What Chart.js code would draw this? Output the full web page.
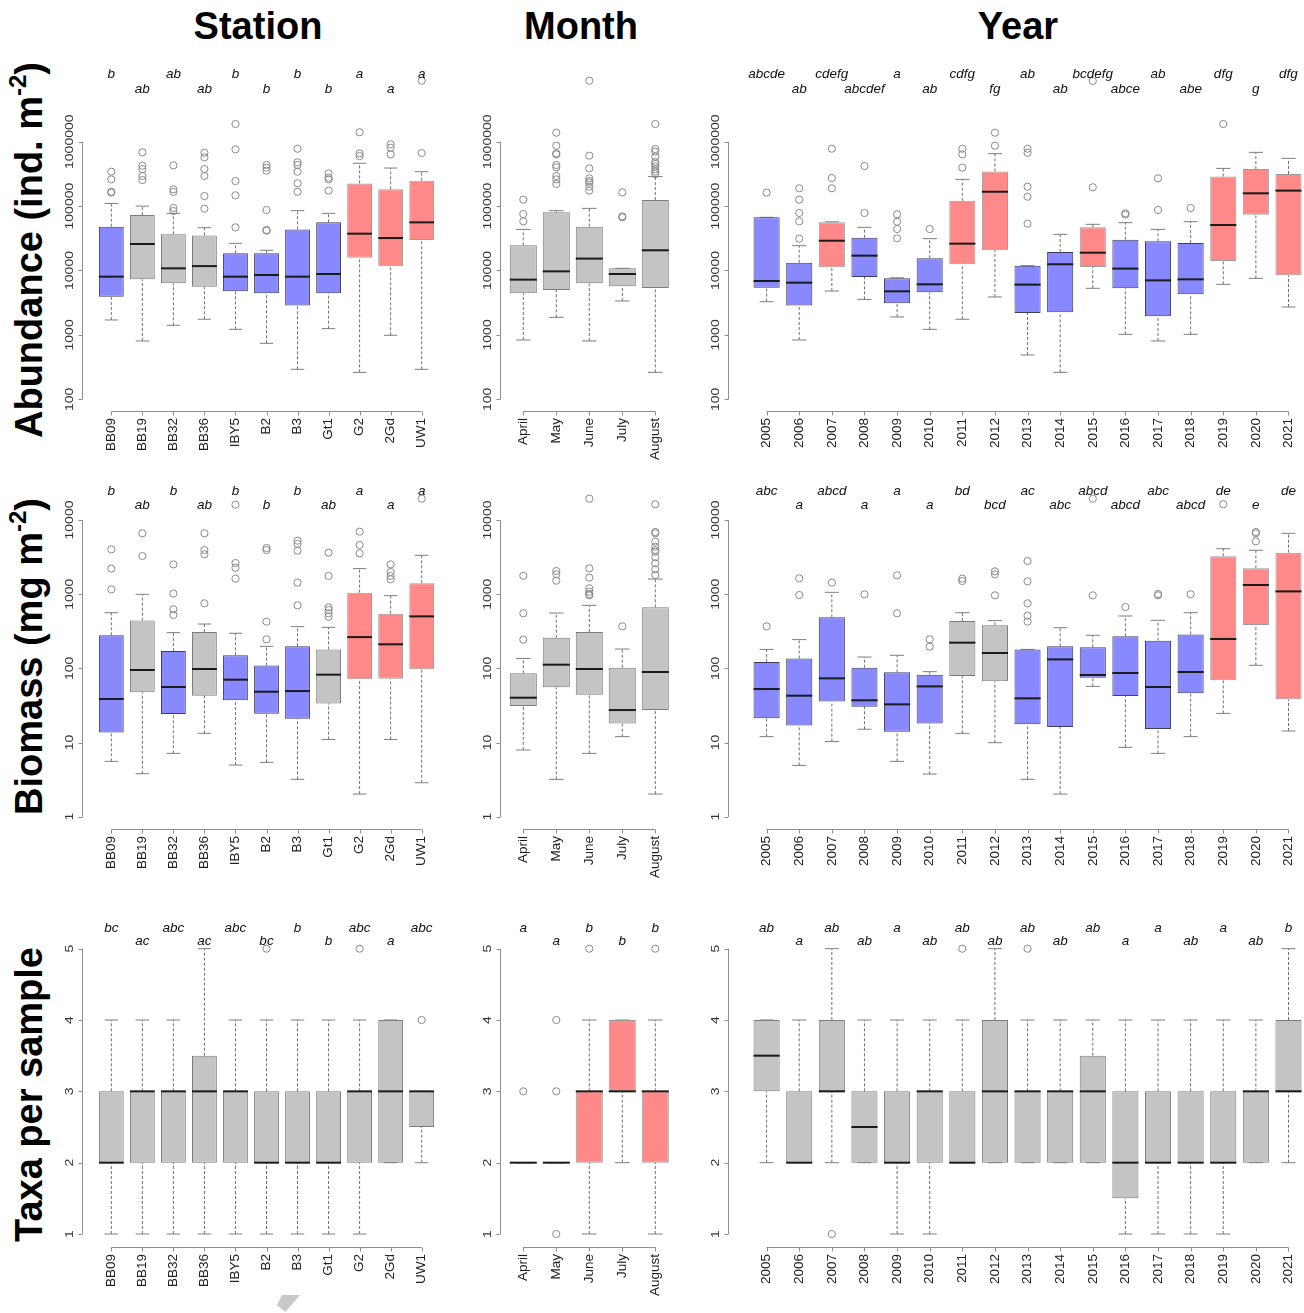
<!DOCTYPE html>
<html><head><meta charset="utf-8">
<script src="https://cdn.jsdelivr.net/npm/chart.js@4.4.1/dist/chart.umd.min.js"></script>
<style>
html,body{margin:0;padding:0;background:#fff;width:1304px;height:1313px;overflow:hidden;position:relative;font-family:"Liberation Sans",Arial,sans-serif;}
canvas{position:absolute;left:0;top:0;}
.title{position:absolute;top:7px;font-weight:bold;font-size:38px;line-height:38px;color:#000;transform:translateX(-50%);white-space:nowrap;}
.rowlab{position:absolute;font-weight:bold;font-size:38px;line-height:38px;color:#000;white-space:nowrap;transform-origin:0 0;transform:rotate(-90deg);}
.rowlab sup{font-size:24px;line-height:0;position:relative;top:-2px;}
.blot{position:absolute;left:277px;top:1295px;width:23px;height:17px;background:#c8c8c8;clip-path:polygon(21% 0,100% 0,36% 100%,0 60%);}
</style></head>
<body>
<div class="title" style="left:258px">Station</div>
<div class="title" style="left:581px">Month</div>
<div class="title" style="left:1018px">Year</div>
<div class="rowlab" style="left:10px;top:438px">Abundance (ind. m<sup>-2</sup>)</div>
<div class="rowlab" style="left:10px;top:815px">Biomass (mg m<sup>-2</sup>)</div>
<div class="rowlab" style="left:10px;top:1242px">Taxa per sample</div>
<div class="blot"></div>
<canvas id="c1" width="1310" height="1313"></canvas>
<canvas id="c2" width="1310" height="1313"></canvas>
<canvas id="c3" width="1310" height="1313"></canvas>
<canvas id="c4" width="1310" height="1313"></canvas>
<canvas id="c5" width="1310" height="1313"></canvas>
<canvas id="c6" width="1310" height="1313"></canvas>
<canvas id="c7" width="1310" height="1313"></canvas>
<canvas id="c8" width="1310" height="1313"></canvas>
<canvas id="c9" width="1310" height="1313"></canvas>
<script>
// ---------- categories ----------
const stations = ['BB09','BB19','BB32','BB36','IBY5','B2','B3','Gt1','G2','2Gd','UW1'];
const months = ['April','May','June','July','August'];
const years = ['2005','2006','2007','2008','2009','2010','2011','2012','2013','2014','2015','2016','2017','2018','2019','2020','2021'];

// ---------- tick labels ----------
const abundTicks = [100, 1000, 10000, 100000, 1000000];
const abundTickLabels = ['100','1000','10000','100000','1000000'];
const bioTicks = [1, 10, 100, 1000, 10000];
const bioTickLabels = ['1','10','100','1000','10000'];
const taxaTicks = [1, 2, 3, 4, 5];
const taxaTickLabels = ['1','2','3','4','5'];

// ---------- Abundance by station ----------
const abStLo  = [1705, 805, 1410, 1750, 1220, 740, 292, 1250, 262, 986, 292];
const abStQ1  = [3925, 7290, 6320, 5610, 4750, 4430, 2850, 4430, 15800, 11600, 29700];
const abStMed = [8020, 25800, 10800, 11700, 8020, 8510, 8020, 8830, 37300, 31900, 55900];
const abStQ3  = [47900, 72700, 36400, 35100, 18500, 18500, 43500, 55900, 225000, 182000, 248000];
const abStHi  = [110000, 100000, 77200, 46200, 26400, 20600, 85000, 77200, 462000, 390000, 342000];
const abStOut = [[342000,260000,167000,162000],[682000,424000,376000,293000,254000],[429000,182000,166000,93300,83900],[674000,571000,376000,293000,143000,91200],[1880000,760000,245000,147000,46800],[435000,395000,355000,86900,42600,41500],[778000,478000,435000,342000,226000,167000],[322000,276000,260000,174000],[1400000,659000,599000],[909000,807000,636000],[8850000,667000]];
const abStCol = ['b','g','g','g','b','b','b','b','r','r','r'];
const abStLet = ['b','ab','ab','ab','b','b','b','b','a','a','a'];

// ---------- Abundance by month ----------
const abMoLo  = [834, 1875, 805, 3360, 262];
const abMoQ1  = [4430, 4980, 6320, 5680, 5350];
const abMoMed = [7210, 9700, 15300, 8830, 20600];
const abMoQ3  = [24600, 80000, 47900, 10800, 124000];
const abMoHi  = [43500, 84900, 92200, 10800, 287000];
const abMoOut = [[126000,75300,58000],[1380000,867000,659000,636000,435000,400000,293000,260000,220000],[8850000,607000,385000,270000,245000,231000,200000,174000],[163000,69300,66900],[1880000,769000,700000,585000,483000,450000,409000,372000,342000,315000]];
const abMoCol = ['g','g','g','g','g'];
const abMoLet = ['','','','',''];

// ---------- Abundance by year ----------
const abYrLo  = [3280, 834, 4800, 3560, 1900, 1220, 1750, 3880, 488, 262, 5290, 1020, 805, 1020, 6100, 7550, 2710];
const abYrQ1  = [5420, 2850, 11200, 7930, 3090, 4580, 12500, 20600, 2190, 2240, 11300, 5290, 1940, 4270, 14000, 73600, 8410];
const abYrMed = [6870, 6470, 29000, 17000, 4750, 6100, 26100, 167000, 6030, 12500, 18900, 10700, 7030, 7290, 50800, 158000, 174000];
const abYrQ3  = [66900, 13200, 55900, 32300, 7550, 15500, 121000, 346000, 11900, 19400, 46800, 30100, 28400, 26700, 287000, 376000, 315000];
const abYrHi  = [66900, 24300, 57000, 46800, 7700, 31200, 260000, 652000, 11900, 36400, 52100, 55300, 43500, 57300, 385000, 683000, 551000];
const abYrOut = [[162000],[189000,126000,78100,58000,31200],[778000,273000,189000],[419000,78100],[74500,57300,44000,31600],[44000],[778000,636000,395000],[1380000,867000],[778000,674000,200000,140000,53300],[],[8750000,196000],[77300,73600],[270000,86900],[93300],[1880000],[],[]];
const abYrCol = ['b','b','r','b','b','b','r','r','b','b','r','b','b','b','r','r','r'];
const abYrLet = ['abcde','ab','cdefg','abcdef','a','ab','cdfg','fg','ab','ab','bcdefg','abce','ab','abe','dfg','g','dfg'];

// ---------- Biomass by station ----------
const bioStLo  = [5.57, 3.80, 7.14, 13.3, 4.97, 5.40, 3.19, 11.0, 2.02, 11.0, 2.87];
const bioStQ1  = [13.6, 47.5, 24.2, 42.8, 37.1, 24.5, 20.9, 33.7, 71.1, 72.6, 97];
const bioStMed = [38.6, 95, 56, 98, 70.3, 48.4, 49.4, 82.2, 264, 211, 502];
const bioStQ3  = [279, 440, 171, 309, 150, 109, 198, 180, 1047, 546, 1400];
const bioStHi  = [563, 995, 303, 396, 297, 198, 365, 357, 2210, 955, 3340];
const bioStOut = [[4020,2210,1160],[6610,3270],[2520,1020,625,524],[6610,3940,3450,752],[16100,2630,2270,1620],[4190,3940,426,246],[5260,4750,3860,1430,707],[3630,1760,664,612,552,497],[6960,4600,3550],[2520,1990,1760,1585],[19400]];
const bioStCol = ['b','g','b','g','b','b','b','g','r','r','r'];
const bioStLet = ['b','ab','b','ab','b','b','b','ab','a','a','a'];

// ---------- Biomass by month ----------
const bioMoLo  = [7.93, 3.19, 7.14, 12.0, 2.02];
const bioMoQ1  = [31.0, 55.4, 44.2, 18.1, 27.4];
const bioMoMed = [40.2, 112, 98, 27.4, 89.3];
const bioMoQ3  = [85.7, 259, 309, 102, 664];
const bioMoHi  = [136, 557, 707, 182, 1600];
const bioMoOut = [[1770,552,244],[2050,1850,1520],[19400,2230,1670,1200,1080,1005,964],[368],[16300,6890,6610,5110,4370,3940,3740,3140,2610,2160,1810]];
const bioMoCol = ['g','g','g','g','g'];
const bioMoLet = ['','','','',''];

// ---------- Biomass by year ----------
const bioYrLo  = [12.0, 4.92, 10.3, 15.1, 5.57, 3.76, 13.3, 9.95, 3.19, 2.02, 57.1, 8.61, 7.14, 12.0, 24.7, 110, 14.3];
const bioYrQ1  = [21.2, 16.9, 35.6, 30.4, 14.0, 18.1, 78.8, 66.8, 17.6, 16.2, 74.8, 42.4, 15.2, 46.0, 68.9, 384, 38.2];
const bioYrMed = [52.6, 42.8, 73.3, 37.1, 32.7, 57.1, 222, 161, 39.4, 132, 81.3, 86.5, 56, 89.3, 249, 1330, 1090];
const bioYrQ3  = [122, 136, 487, 102, 88.3, 82.2, 435, 380, 180, 198, 192, 270, 236, 287, 3240, 2230, 3630];
const bioYrHi  = [180, 244, 1059, 142, 150, 90.2, 563, 440, 180, 353, 279, 508, 444, 563, 4100, 3900, 6610];
const bioYrOut = [[368],[1635,975],[1430],[995],[1795,552],[246,196],[1620,1505],[2030,1850,964],[2800,1490,752,513,426],[],[19400,964],[671],[1005,964],[995],[16300],[6890,6610,5150],[]];
const bioYrCol = ['b','b','b','b','b','b','g','g','b','b','b','b','b','b','r','r','r'];
const bioYrLet = ['abc','a','abcd','a','a','a','bd','bcd','ac','abc','abcd','abcd','abc','abcd','de','e','de'];

// ---------- Taxa by station ----------
const taxStLo  = [1,1,1,1,1,1,1,1,1,2,2];
const taxStQ1  = [2,2,2,2,2,2,2,2,2,2,2.5];
const taxStMed = [2,3,3,3,3,2,2,2,3,3,3];
const taxStQ3  = [3,3,3,3.5,3,3,3,3,3,4,3];
const taxStHi  = [4,4,4,5,4,4,4,4,4,4,3];
const taxStOut = [[],[],[],[],[],[5],[],[],[5],[],[4]];
const taxStCol = ['g','g','g','g','g','g','g','g','g','g','g'];
const taxStLet = ['bc','ac','abc','ac','abc','bc','b','b','abc','a','abc'];

// ---------- Taxa by month ----------
const taxMoLo  = [2,2,1,2,1];
const taxMoQ1  = [2,2,2,3,2];
const taxMoMed = [2,2,3,3,3];
const taxMoQ3  = [2,2,3,4,3];
const taxMoHi  = [2,2,4,4,4];
const taxMoOut = [[3],[1,3,4],[5],[],[5]];
const taxMoCol = ['g','g','r','r','r'];
const taxMoLet = ['a','a','b','b','b'];

// ---------- Taxa by year ----------
const taxYrLo  = [2,2,2,2,1,1,2,2,2,2,2,1,1,1,1,2,2];
const taxYrQ1  = [3,2,3,2,2,2,2,2,2,2,2,1.5,2,2,2,2,3];
const taxYrMed = [3.5,2,3,2.5,2,3,2,3,3,3,3,2,2,2,2,3,3];
const taxYrQ3  = [4,3,4,3,3,3,3,4,3,3,3.5,3,3,3,3,3,4];
const taxYrHi  = [4,4,5,4,4,4,4,5,4,4,4,4,4,4,4,4,5];
const taxYrOut = [[],[],[1],[],[],[],[5],[],[5],[],[],[],[],[],[],[],[]];
const taxYrCol = ['g','g','g','g','g','g','g','g','g','g','g','g','g','g','g','g','g'];
const taxYrLet = ['ab','a','ab','ab','a','ab','ab','ab','ab','ab','ab','a','a','ab','a','ab','b'];

// ---------- styles / layout ----------
const COLORS = {
  b: {fill:'#8888ff', border:'#3e3e5e'},
  r: {fill:'#ff8888', border:'#9c9c9c'},
  g: {fill:'#c4c4c4', border:'#7c7c7c'}
};
const COLS = {
  station: {left:95.8, right:437.2, axisX:82, barPct:0.8},
  month:   {left:506.8, right:671.8, axisX:499.5, barPct:0.82},
  year:    {left:750.3, right:1304.8, axisX:728, barPct:0.8}
};
const ROWS = {
  abund: {top:60, bottom:411, yType:'logarithmic', yMin:65.8, yMax:1.856e7, letHigh:78.3, letLow:92.7},
  bio:   {top:480, bottom:829.3, yType:'logarithmic', yMin:0.6764, yMax:34600, letHigh:495, letLow:509.3},
  taxa:  {top:925, bottom:1246.7, yType:'linear', yMin:0.822, yMax:5.332, letHigh:932.3, letLow:945}
};
const FONT = '"Liberation Sans", Arial, sans-serif';

function makePanel(id, col, row, D) {
  const C = COLS[col], R = ROWS[row];
  const n = D.cats.length;
  const W = 1310, H = 1313;
  const slot = (C.right - C.left) / n;
  const boxW = slot * C.barPct;
  const capHalf = boxW * 0.27;
  const boxes = D.cats.map((c, i) => [D.q1[i], D.q3[i]]);
  const med = D.cats.map((c, i) => ({x: c, y: D.med[i]}));
  const caps = [];
  const whisk = [];
  const outs = [];
  D.cats.forEach((c, i) => {
    caps.push({x: c, y: D.lo[i]}, {x: c, y: D.hi[i]});
    if (D.lo[i] < D.q1[i]) whisk.push({x: c, y: D.lo[i]}, {x: c, y: D.q1[i]}, {x: c, y: null});
    if (D.hi[i] > D.q3[i]) whisk.push({x: c, y: D.q3[i]}, {x: c, y: D.hi[i]}, {x: c, y: null});
    D.out[i].forEach(v => outs.push({x: c, y: v}));
  });
  const axisPlugin = {
    id: 'rAxes' + id,
    afterDraw(chart) {
      const ctx = chart.ctx, xs = chart.scales.x, ys = chart.scales.y;
      ctx.save();
      ctx.strokeStyle = '#8e8e8e';
      ctx.lineWidth = 1;
      // y axis
      const ax = Math.round(C.axisX) + 0.5;
      ctx.beginPath();
      ctx.moveTo(ax, ys.getPixelForValue(D.yTicks[0]));
      ctx.lineTo(ax, ys.getPixelForValue(D.yTicks[D.yTicks.length - 1]));
      D.yTicks.forEach(v => {
        const y = Math.round(ys.getPixelForValue(v)) + 0.5;
        ctx.moveTo(ax, y); ctx.lineTo(ax - 4, y);
      });
      ctx.stroke();
      ctx.fillStyle = '#333';
      ctx.font = '14px ' + FONT;
      D.yTickLabels.forEach((lab, i) => {
        const y = ys.getPixelForValue(D.yTicks[i]);
        ctx.save();
        ctx.translate(ax - 9.5, y);
        ctx.rotate(-Math.PI / 2);
        ctx.scale(1, 0.72);
        ctx.textAlign = 'center';
        ctx.textBaseline = 'alphabetic';
        ctx.fillText(lab, 0, 0);
        ctx.restore();
      });
      // x axis
      const y0 = Math.round(chart.chartArea.bottom) + 0.5;
      ctx.beginPath();
      ctx.moveTo(xs.getPixelForValue(0), y0);
      ctx.lineTo(xs.getPixelForValue(n - 1), y0);
      for (let i = 0; i < n; i++) {
        const x = Math.round(xs.getPixelForValue(i)) + 0.5;
        ctx.moveTo(x, y0); ctx.lineTo(x, y0 + 4);
      }
      ctx.stroke();
      ctx.fillStyle = '#222';
      ctx.font = '13.5px ' + FONT;
      D.cats.forEach((c, i) => {
        const x = xs.getPixelForValue(i);
        ctx.save();
        ctx.translate(x, y0 + 6.5);
        ctx.rotate(-Math.PI / 2);
        ctx.textAlign = 'right';
        ctx.textBaseline = 'middle';
        ctx.fillText(c, 0, 0);
        ctx.restore();
      });
      // significance letters
      ctx.fillStyle = '#111';
      ctx.font = 'italic 13.5px ' + FONT;
      ctx.textAlign = 'center';
      ctx.textBaseline = 'alphabetic';
      D.letters.forEach((l, i) => {
        if (!l) return;
        ctx.fillText(l, xs.getPixelForValue(i), i % 2 === 0 ? R.letHigh : R.letLow);
      });
      ctx.restore();
    }
  };
  new Chart(document.getElementById(id), {
    type: 'bar',
    data: {
      labels: D.cats,
      datasets: [
        {type: 'line', data: med, showLine: false, pointStyle: 'line', pointRadius: boxW / 2,
         pointBorderWidth: 2, pointBorderColor: '#1a1a1a', pointBackgroundColor: '#1a1a1a', order: 0, clip: false},
        {type: 'bar', data: boxes, backgroundColor: D.cols.map(k => COLORS[k].fill),
         borderColor: D.cols.map(k => COLORS[k].border), borderWidth: 1, borderSkipped: false,
         barPercentage: C.barPct, categoryPercentage: 1, order: 1, clip: false},
        {type: 'line', data: caps, showLine: false, pointStyle: 'line', pointRadius: capHalf,
         pointBorderWidth: 1, pointBorderColor: '#7e7e7e', order: 2, clip: false},
        {type: 'line', data: whisk, showLine: true, spanGaps: false, borderColor: '#707070', borderWidth: 1,
         borderDash: [3, 2], pointRadius: 0, tension: 0, order: 3, clip: false},
        {type: 'line', data: outs, showLine: false, pointStyle: 'circle', pointRadius: 3.6,
         pointBorderWidth: 1, pointBorderColor: '#8a8a8a', pointBackgroundColor: 'rgba(0,0,0,0)', order: 4, clip: false}
      ]
    },
    options: {
      responsive: false, animation: false, devicePixelRatio: 1, events: [],
      layout: {autoPadding: false, padding: {left: C.left, right: W - C.right, top: R.top, bottom: H - R.bottom}},
      plugins: {legend: {display: false}, tooltip: {enabled: false}, title: {display: false}},
      scales: {
        x: {type: 'category', display: false, offset: true, grid: {display: false}},
        y: {type: R.yType, display: false, min: R.yMin, max: R.yMax, bounds: 'data', grid: {display: false}}
      }
    },
    plugins: [axisPlugin]
  });
}

makePanel('c1', 'station', 'abund', {cats: stations, lo: abStLo, q1: abStQ1, med: abStMed, q3: abStQ3, hi: abStHi, out: abStOut, cols: abStCol, letters: abStLet, yTicks: abundTicks, yTickLabels: abundTickLabels});
makePanel('c2', 'month', 'abund', {cats: months, lo: abMoLo, q1: abMoQ1, med: abMoMed, q3: abMoQ3, hi: abMoHi, out: abMoOut, cols: abMoCol, letters: abMoLet, yTicks: abundTicks, yTickLabels: abundTickLabels});
makePanel('c3', 'year', 'abund', {cats: years, lo: abYrLo, q1: abYrQ1, med: abYrMed, q3: abYrQ3, hi: abYrHi, out: abYrOut, cols: abYrCol, letters: abYrLet, yTicks: abundTicks, yTickLabels: abundTickLabels});
makePanel('c4', 'station', 'bio', {cats: stations, lo: bioStLo, q1: bioStQ1, med: bioStMed, q3: bioStQ3, hi: bioStHi, out: bioStOut, cols: bioStCol, letters: bioStLet, yTicks: bioTicks, yTickLabels: bioTickLabels});
makePanel('c5', 'month', 'bio', {cats: months, lo: bioMoLo, q1: bioMoQ1, med: bioMoMed, q3: bioMoQ3, hi: bioMoHi, out: bioMoOut, cols: bioMoCol, letters: bioMoLet, yTicks: bioTicks, yTickLabels: bioTickLabels});
makePanel('c6', 'year', 'bio', {cats: years, lo: bioYrLo, q1: bioYrQ1, med: bioYrMed, q3: bioYrQ3, hi: bioYrHi, out: bioYrOut, cols: bioYrCol, letters: bioYrLet, yTicks: bioTicks, yTickLabels: bioTickLabels});
makePanel('c7', 'station', 'taxa', {cats: stations, lo: taxStLo, q1: taxStQ1, med: taxStMed, q3: taxStQ3, hi: taxStHi, out: taxStOut, cols: taxStCol, letters: taxStLet, yTicks: taxaTicks, yTickLabels: taxaTickLabels});
makePanel('c8', 'month', 'taxa', {cats: months, lo: taxMoLo, q1: taxMoQ1, med: taxMoMed, q3: taxMoQ3, hi: taxMoHi, out: taxMoOut, cols: taxMoCol, letters: taxMoLet, yTicks: taxaTicks, yTickLabels: taxaTickLabels});
makePanel('c9', 'year', 'taxa', {cats: years, lo: taxYrLo, q1: taxYrQ1, med: taxYrMed, q3: taxYrQ3, hi: taxYrHi, out: taxYrOut, cols: taxYrCol, letters: taxYrLet, yTicks: taxaTicks, yTickLabels: taxaTickLabels});
</script>
</body></html>
